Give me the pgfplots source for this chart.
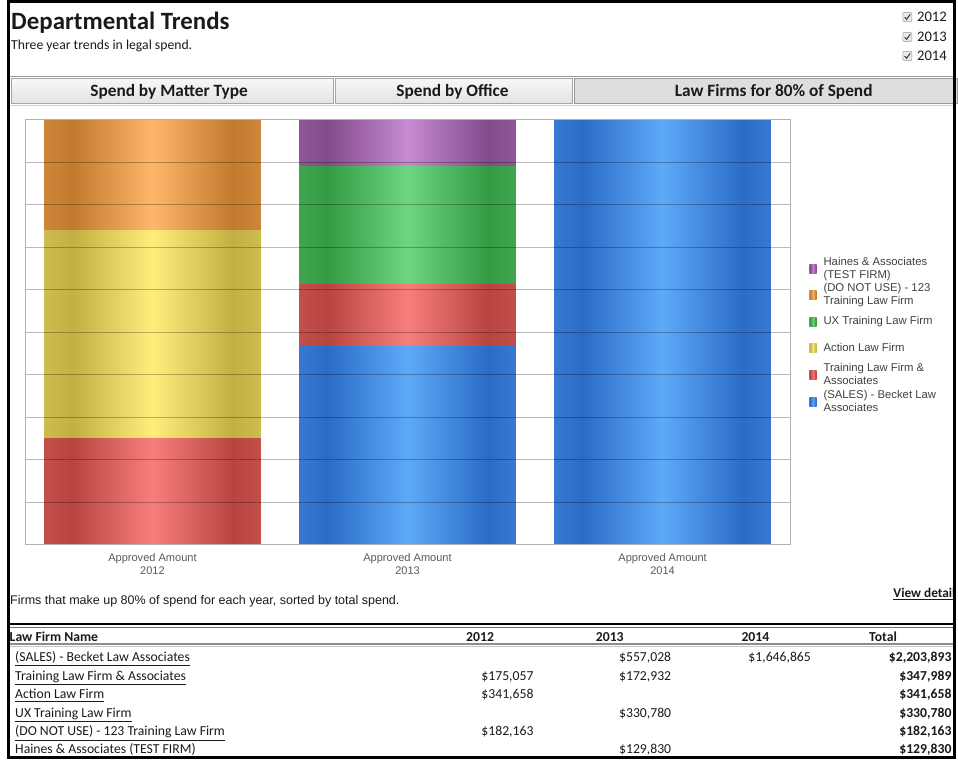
\documentclass[border=0pt]{standalone}
\usepackage{fontspec}
\setmainfont{Carlito}
\newfontfamily\lib{Liberation Sans}
\usepackage{pgfplots}
\pgfplotsset{compat=1.18}

% series colours: dark edge, light centre, mid (outer edge)
\definecolor{bluedark}{HTML}{2A6CC6}\definecolor{bluelight}{HTML}{5EA9F8}\definecolor{bluemid}{HTML}{3778D2}
\definecolor{reddark}{HTML}{B84440}\definecolor{redlight}{HTML}{F77F7B}\definecolor{redmid}{HTML}{C34F4A}
\definecolor{yeldark}{HTML}{C2B142}\definecolor{yellight}{HTML}{FFEE7C}\definecolor{yelmid}{HTML}{CDBD4E}
\definecolor{grndark}{HTML}{349A44}\definecolor{grnlight}{HTML}{6ED580}\definecolor{grnmid}{HTML}{3FA64F}
\definecolor{oradark}{HTML}{C27A2E}\definecolor{oralight}{HTML}{FFB56A}\definecolor{oramid}{HTML}{CD863A}
\definecolor{purdark}{HTML}{834A8C}\definecolor{purlight}{HTML}{C68BD0}\definecolor{purmid}{HTML}{8F5698}

\newcommand\mkshade[4]{%
  \pgfdeclarehorizontalshading{#1}{100bp}{color(0bp)=(#4); color(25bp)=(#4); color(31.5bp)=(#2); color(50bp)=(#3); color(68.5bp)=(#2); color(75bp)=(#4); color(100bp)=(#4)}}
\mkshade{shBlue}{bluedark}{bluelight}{bluemid}
\mkshade{shRed}{reddark}{redlight}{redmid}
\mkshade{shYel}{yeldark}{yellight}{yelmid}
\mkshade{shGrn}{grndark}{grnlight}{grnmid}
\mkshade{shOra}{oradark}{oralight}{oramid}
\mkshade{shPur}{purdark}{purlight}{purmid}

\definecolor{txt}{HTML}{1A1A1A}

\begin{document}
\begin{tikzpicture}
\begin{scope}[x=0.75pt,y=-0.75pt]
  \path[use as bounding box] (0,0) rectangle (958,761);
\end{scope}

% Shares of each year's approved amount (percent), from the table:
% 2012: Training 175,057 / Action 341,658 / (DO NOT USE) 182,163
% 2013: SALES 557,028 / Training 172,932 / UX 330,780 / Haines 129,830
% 2014: SALES 1,646,865
% each segment: (left,bottom) (right,bottom) (right,top) (left,top)
\begin{axis}[
  at={(18.75pt,-409.5pt)}, anchor=south west,
  scale only axis, width=575.25pt, height=319.5pt,
  xmin=-0.5, xmax=2.5, ymin=0, ymax=100,
  xtick={0,1,2},
  xticklabels={{Approved Amount\\2012},{Approved Amount\\2013},{Approved Amount\\2014}},
  x tick label style={align=center, font=\lib\fontsize{8.3}{9.75}\selectfont, text=black!65, yshift=-3pt},
  major tick length=0pt,
  ytick={0,10,...,100}, yticklabel=\empty,
  ymajorgrids,
  major grid style={draw=black, opacity=0.27, line width=0.65pt},
  axis line style={draw=black!30},
  axis on top,
  legend image code/.code={\path[#1] (0pt,-3.4pt) rectangle (5.4pt,3.4pt);},
  legend cell align=left,
  legend style={draw=none, fill=none, at={(1.0196,0.688)}, anchor=north west,
    font=\lib\fontsize{8.5}{9.75}\selectfont, text=black!75,
    row sep=0pt, column sep=5.25pt,
    nodes={inner sep=0pt, minimum height=20pt, align=left}},
]
% legend-bearing segments (legend order: top to bottom)
\addplot[shade, shading=shPur, draw=none] coordinates {(0.576,89.09) (1.424,89.09) (1.424,100) (0.576,100)};
\addlegendentry{Haines \& Associates\\(TEST FIRM)}
\addplot[shade, shading=shOra, draw=none] coordinates {(-0.424,73.94) (0.424,73.94) (0.424,100) (-0.424,100)};
\addlegendentry{(DO NOT USE) - 123\\Training Law Firm}
\addplot[shade, shading=shGrn, draw=none] coordinates {(0.576,61.31) (1.424,61.31) (1.424,89.09) (0.576,89.09)};
\addlegendentry{UX Training Law Firm}
\addplot[shade, shading=shYel, draw=none] coordinates {(-0.424,25.05) (0.424,25.05) (0.424,73.94) (-0.424,73.94)};
\addlegendentry{Action Law Firm}
\addplot[shade, shading=shRed, draw=none] coordinates {(-0.424,0) (0.424,0) (0.424,25.05) (-0.424,25.05)};
\addlegendentry{Training Law Firm \&\\Associates}
\addplot[shade, shading=shBlue, draw=none] coordinates {(0.576,0) (1.424,0) (1.424,46.79) (0.576,46.79)};
\addlegendentry{(SALES) - Becket Law\\Associates}
% remaining segments
\addplot[shade, shading=shRed, draw=none, forget plot] coordinates {(0.576,46.79) (1.424,46.79) (1.424,61.31) (0.576,61.31)};
\addplot[shade, shading=shBlue, draw=none, forget plot] coordinates {(1.576,0) (2.424,0) (2.424,100) (1.576,100)};
\draw[black, line width=1pt] (rel axis cs:0,0) -- (rel axis cs:1,0);
\end{axis}

\begin{scope}[x=0.75pt,y=-0.75pt, every node/.style={inner sep=0pt, text=txt}]
  % header
  \node[anchor=base west, font=\bfseries\fontsize{18.7}{20}\selectfont] at (11,29.5) {Departmental Trends};
  \node[anchor=base west, font=\fontsize{10.3}{12}\selectfont] at (11,50) {Three year trends in legal spend.};
  % checkboxes
  \foreach \yy/\lab in {17/2012, 37/2013, 56/2014}{
    \draw[black!40, fill=black!8, rounded corners=0.8pt] (905,\yy-4.5) rectangle (914,\yy+4.5);
    \draw[black!75, line width=0.8pt] (906.8,\yy+0.2) -- (908.8,\yy+2.4) -- (912.3,\yy-2.6);
    \node[anchor=base west, font=\fontsize{11}{12}\selectfont] at (919,\yy+4.5) {\lab};
  }
  % tabs
  \draw[black!40, line width=0.75pt] (10,77) -- (956,77);
  \draw[black!35, top color=black!3, bottom color=black!11] (11,78.5) rectangle (334,104);
  \draw[black!35, top color=black!3, bottom color=black!11] (336,78.5) rectangle (574,104);
  \draw[black!40, fill=black!13] (576,78.5) rectangle (960,104);
  \draw[black!18] (10,105.5) -- (956,105.5);
  \node[anchor=base, font=\bfseries\fontsize{13}{14}\selectfont] at (169.5,97) {Spend by Matter Type};
  \node[anchor=base, font=\bfseries\fontsize{13}{14}\selectfont] at (453.5,97) {Spend by Office};
  \node[anchor=base, font=\bfseries\fontsize{13}{14}\selectfont] at (775.5,97) {Law Firms for 80\% of Spend};
  % note and link
  \node[anchor=base west, font=\lib\fontsize{9.4}{11}\selectfont] at (10,606) {Firms that make up 80\% of spend for each year, sorted by total spend.};
  \node[anchor=base east, font=\bfseries\fontsize{10}{12}\selectfont] at (958,599) {\underline{View detail}};
  % table rules
  \draw[black, line width=1.1pt] (9,625.5) -- (956,625.5);
  \draw[black!55, line width=0.75pt] (9,628.7) -- (956,628.7);
  \draw[black!45, line width=1pt] (9,645.5) -- (956,645.5);
  \draw[black!22, line width=0.75pt] (9,648) -- (956,648);
  % table header
  \begin{scope}[every node/.append style={font=\bfseries\fontsize{10.3}{12}\selectfont}]
    \node[anchor=base west] at (9.5,642.7) {Law Firm Name};
    \node[anchor=base west] at (467,642.7) {2012};
    \node[anchor=base west] at (597,642.7) {2013};
    \node[anchor=base west] at (743,642.7) {2014};
    \node[anchor=base west] at (871,642.7) {Total};
  \end{scope}
  % table rows
  \begin{scope}[every node/.append style={font=\fontsize{10.3}{12}\selectfont}]
    \foreach \yy/\nm/\a/\b/\c/\t in {
      663.5/{(SALES) - Becket Law Associates}/{}/{\$557,028}/{\$1,646,865}/{\$2,203,893},
      682/{Training Law Firm \& Associates}/{\$175,057}/{\$172,932}/{}/{\$347,989},
      700.5/{Action Law Firm}/{\$341,658}/{}/{}/{\$341,658},
      719/{UX Training Law Firm}/{}/{\$330,780}/{}/{\$330,780},
      737.5/{(DO NOT USE) - 123 Training Law Firm}/{\$182,163}/{}/{}/{\$182,163},
      755.5/{Haines \& Associates (TEST FIRM)}/{}/{\$129,830}/{}/{\$129,830}}{
      \node[anchor=base west] at (15,\yy) {\underline{\nm}};
      \node[anchor=base east] at (535,\yy) {\a};
      \node[anchor=base east] at (673,\yy) {\b};
      \node[anchor=base east] at (813,\yy) {\c};
      \node[anchor=base east, font=\bfseries\fontsize{10.3}{12}\selectfont] at (954,\yy) {\t};
    }
  \end{scope}
  % frame
  \draw[black, line width=2.1pt] (8.7,1.5) rectangle (956.5,759.5);
\end{scope}
\end{tikzpicture}
\end{document}
